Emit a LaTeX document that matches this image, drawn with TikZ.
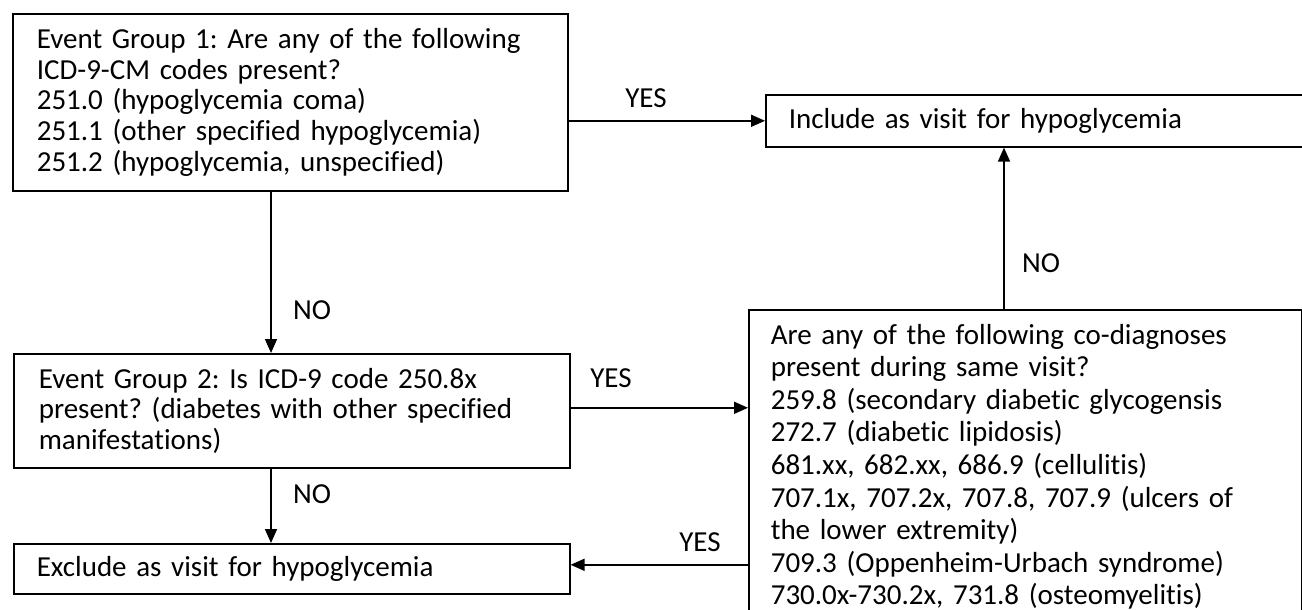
\documentclass[tikz,border=0pt]{standalone}
\usepackage{fontspec}
\setmainfont{Carlito}[Ligatures={NoCommon,NoRare,NoContextual}]
\usetikzlibrary{arrows.meta}
\begin{document}
\frenchspacing
\begin{tikzpicture}[x=1pt,y=-1pt,
  box/.style={draw=black, line width=1.6pt, anchor=north west, align=left, inner ysep=0pt},
  boxfont/.style={font=\frenchspacing\fontsize{29}{30.8}\selectfont},
  cofont/.style={font=\frenchspacing\fontsize{29}{32.6}\selectfont},
  lbl/.style={font=\fontsize{29}{30}\selectfont, inner sep=0pt},
  arr/.style={line width=1.6pt, -{Triangle[length=14pt,width=12pt]}}]
\useasboundingbox (0,0) rectangle (1302,610);
\clip (0,0) rectangle (1302,610);
\fill[white] (0,0) rectangle (1302,610);

\node[box, boxfont, minimum height=177pt, text width=507pt, inner xsep=24pt] (b1) at (12,13)
  {Event Group 1: Are any of the following\\ICD-9-CM codes present?\\251.0 (hypoglycemia coma)\\251.1 (other specified hypoglycemia)\\251.2 (hypoglycemia, unspecified)};

\node[box, boxfont, minimum height=52pt, text width=514pt, inner xsep=23pt] (inc) at (765,94)
  {Include as visit for hypoglycemia};

\node[box, boxfont, minimum height=114pt, text width=506pt, inner xsep=25pt] (b2) at (13,353)
  {Event Group 2: Is ICD-9 code 250.8x\\present? (diabetes with other specified\\manifestations)};

\node[box, boxfont, minimum height=50pt, text width=510pt, inner xsep=23pt] (exc) at (13,543)
  {Exclude as visit for hypoglycemia};

\node[box, cofont, minimum height=314pt, text width=509pt, inner xsep=22pt] (co) at (748,309)
  {Are any of the following co-diagnoses\\present during same visit?\\259.8 (secondary diabetic glycogensis\\272.7 (diabetic lipidosis)\\681.xx, 682.xx, 686.9 (cellulitis)\\707.1x, 707.2x, 707.8, 707.9 (ulcers of\\the lower extremity)\\709.3 (Oppenheim-Urbach syndrome)\\730.0x-730.2x, 731.8 (osteomyelitis)};

\draw[arr] (b1.east |- inc.west) -- (inc.west);
\draw[arr] ([xshift=259pt]b1.south west) -- ([xshift=258pt]b2.north west);
\draw[arr] ([yshift=3pt]b2.east) -- ([yshift=3pt]b2.east -| co.west);
\draw[arr] ([xshift=256pt]co.north west) -- ([xshift=256pt]co.north west |- inc.south);
\draw[arr] ([xshift=258pt]b2.south west) -- ([xshift=258pt]exc.north west);
\draw[arr] ([yshift=4pt]exc.east -| co.west) -- ([yshift=4pt]exc.east);

\node[lbl] (yes1) at (646,98) {YES};
\node[lbl, anchor=west] (no1) at (293,310) {NO};
\node[lbl] (yes2) at (611,378) {YES};
\node[lbl, anchor=west] (no2) at (1022,263) {NO};
\node[lbl, anchor=west] (no3) at (293,494) {NO};
\node[lbl] (yes3) at (700,542) {YES};
\end{tikzpicture}
\end{document}
